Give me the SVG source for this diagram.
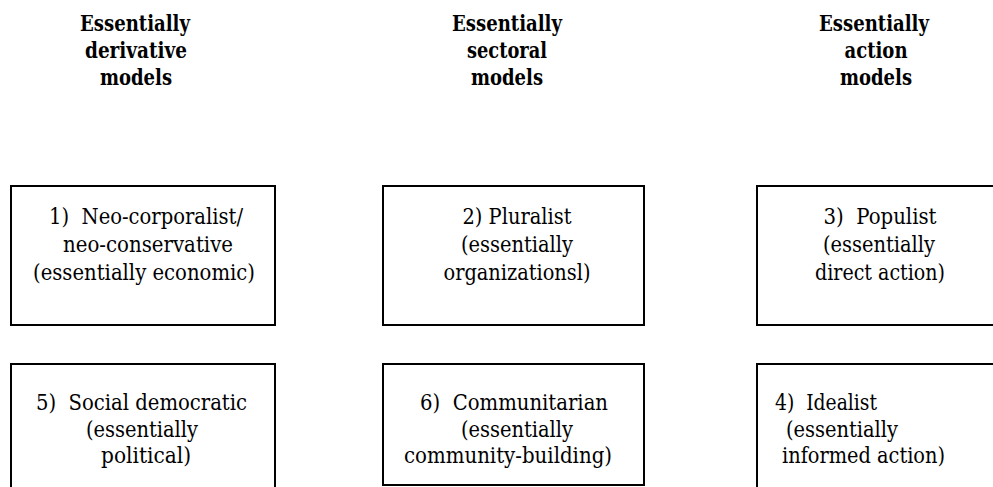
<svg xmlns="http://www.w3.org/2000/svg" width="993" height="487" viewBox="0 0 993 487">
  <style>
    text { font-family: 'DejaVu Serif Condensed', 'DejaVu Serif', serif; fill: #000; }
    .head { font-size: 22px; font-weight: bold; text-anchor: middle; }
    .t { font-size: 22px; }
    .c { text-anchor: middle; }
    .box { fill: #fff; stroke: #000; stroke-width: 2; }
  </style>
  <rect width="993" height="487" fill="#fff"/>

  <!-- Column headings -->
  <g id="heading-derivative">
    <text class="head" x="135" y="31" textLength="110" lengthAdjust="spacingAndGlyphs">Essentially</text>
    <text class="head" x="136" y="58" textLength="102" lengthAdjust="spacingAndGlyphs">derivative</text>
    <text class="head" x="136" y="85" textLength="72" lengthAdjust="spacingAndGlyphs">models</text>
  </g>
  <g id="heading-sectoral">
    <text class="head" x="507" y="31" textLength="110" lengthAdjust="spacingAndGlyphs">Essentially</text>
    <text class="head" x="507" y="58" textLength="80" lengthAdjust="spacingAndGlyphs">sectoral</text>
    <text class="head" x="507" y="85" textLength="72" lengthAdjust="spacingAndGlyphs">models</text>
  </g>
  <g id="heading-action">
    <text class="head" x="874" y="31" textLength="110" lengthAdjust="spacingAndGlyphs">Essentially</text>
    <text class="head" x="876" y="58" textLength="63" lengthAdjust="spacingAndGlyphs">action</text>
    <text class="head" x="876" y="85" textLength="72" lengthAdjust="spacingAndGlyphs">models</text>
  </g>

  <!-- Top row -->
  <g id="model-1">
    <rect class="box" x="11" y="186" width="264" height="139"/>
    <text class="t c" xml:space="preserve" x="146" y="224" textLength="194" lengthAdjust="spacingAndGlyphs">1)  Neo-corporalist/</text>
    <text class="t c" x="148" y="252" textLength="170" lengthAdjust="spacingAndGlyphs">neo-conservative</text>
    <text class="t c" x="144" y="280" textLength="222" lengthAdjust="spacingAndGlyphs">(essentially economic)</text>
  </g>
  <g id="model-2">
    <rect class="box" x="383" y="186" width="261" height="139"/>
    <text class="t c" x="517" y="224" textLength="109" lengthAdjust="spacingAndGlyphs">2) Pluralist</text>
    <text class="t c" x="517" y="252" textLength="112" lengthAdjust="spacingAndGlyphs">(essentially</text>
    <text class="t c" x="517" y="280" textLength="147" lengthAdjust="spacingAndGlyphs">organizationsl)</text>
  </g>
  <g id="model-3">
    <rect class="box" x="757" y="186" width="260" height="139"/>
    <text class="t c" xml:space="preserve" x="880" y="224" textLength="113" lengthAdjust="spacingAndGlyphs">3)  Populist</text>
    <text class="t c" x="879" y="252" textLength="112" lengthAdjust="spacingAndGlyphs">(essentially</text>
    <text class="t c" x="880" y="280" textLength="130" lengthAdjust="spacingAndGlyphs">direct action)</text>
  </g>

  <!-- Bottom row -->
  <g id="model-5">
    <rect class="box" x="11" y="364" width="264" height="140"/>
    <text class="t c" xml:space="preserve" x="141.5" y="410" textLength="211" lengthAdjust="spacingAndGlyphs">5)  Social democratic</text>
    <text class="t c" x="142" y="437" textLength="112" lengthAdjust="spacingAndGlyphs">(essentially</text>
    <text class="t c" x="146" y="463" textLength="90" lengthAdjust="spacingAndGlyphs">political)</text>
  </g>
  <g id="model-6">
    <rect class="box" x="383" y="364" width="261" height="121"/>
    <text class="t c" xml:space="preserve" x="514" y="410" textLength="188" lengthAdjust="spacingAndGlyphs">6)  Communitarian</text>
    <text class="t c" x="517" y="437" textLength="112" lengthAdjust="spacingAndGlyphs">(essentially</text>
    <text class="t c" x="508" y="463" textLength="208" lengthAdjust="spacingAndGlyphs">community-building)</text>
  </g>
  <g id="model-4">
    <rect class="box" x="757" y="364" width="260" height="140"/>
    <text class="t" xml:space="preserve" x="775" y="410" textLength="102" lengthAdjust="spacingAndGlyphs">4)  Idealist</text>
    <text class="t" x="786" y="437" textLength="112" lengthAdjust="spacingAndGlyphs">(essentially</text>
    <text class="t" x="782" y="463" textLength="163" lengthAdjust="spacingAndGlyphs">informed action)</text>
  </g>

  <g id="connectors"/>
</svg>
